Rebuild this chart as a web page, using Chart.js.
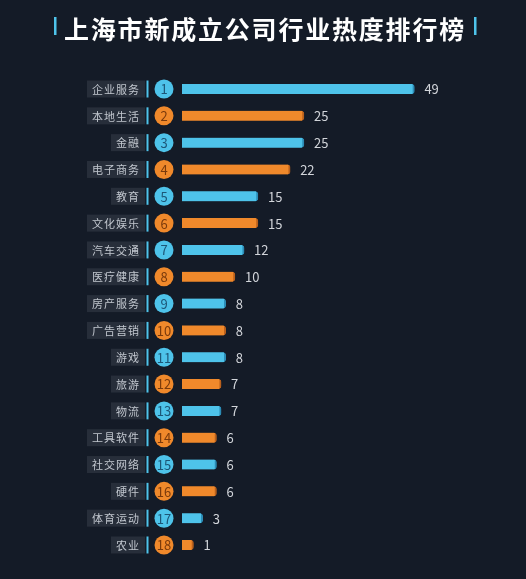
<!DOCTYPE html>
<html>
<head>
<meta charset="utf-8">
<script src="https://cdn.jsdelivr.net/npm/chart.js@4"></script>
<style>
  html, body { margin: 0; padding: 0; background: #141b27; }
  #wrap { width: 526px; height: 579px; }
</style>
</head>
<body>
<div id="wrap"><canvas id="rankChart" width="526" height="579"></canvas></div>
<script>
const title = '上海市新成立公司行业热度排行榜';
const industries = ['企业服务', '本地生活', '金融', '电子商务', '教育', '文化娱乐', '汽车交通', '医疗健康', '房产服务',
  '广告营销', '游戏', '旅游', '物流', '工具软件', '社交网络', '硬件', '体育运动', '农业'];
const companyCounts = [49, 25, 25, 22, 15, 15, 12, 10, 8, 8, 8, 7, 7, 6, 6, 6, 3, 1];

const CYAN = '#4ec3ea';
const ORANGE = '#f0892b';
const FONT = '"Noto Sans CJK SC", "Noto Sans", sans-serif';

const barColors = companyCounts.map((v, i) => i % 2 === 0 ? CYAN : ORANGE);
const edgeColors = companyCounts.map((v, i) => i % 2 === 0 ? '#2b8cb6' : '#b9601c');

// draws title, label boxes, rank circles and value text
const decorations = {
  id: 'decorations',
  afterDraw(chart) {
    const ctx = chart.ctx;
    const y = chart.scales.y;
    const meta = chart.getDatasetMeta(0);

    ctx.save();
    // title
    ctx.font = 'bold 25px ' + FONT;
    ctx.fillStyle = '#ffffff';
    ctx.textAlign = 'center';
    ctx.textBaseline = 'middle';
    ctx.letterSpacing = '1.8px';
    ctx.fillText(title, 265, 29);
    ctx.letterSpacing = '0px';
    ctx.fillStyle = CYAN;
    ctx.fillRect(54, 17, 2.5, 18);
    ctx.fillRect(474, 17, 2.5, 18);

    industries.forEach((name, i) => {
      const cy = y.getPixelForValue(i);
      // label box
      ctx.font = '11px ' + FONT;
      ctx.letterSpacing = '1px';
      const w = ctx.measureText(name).width;
      ctx.fillStyle = '#272e3a';
      ctx.fillRect(145 - w - 10, cy - 8.5, w + 10, 17);
      ctx.fillStyle = '#c2c7cf';
      ctx.textAlign = 'right';
      ctx.textBaseline = 'middle';
      ctx.fillText(name, 140, cy + 0.5);
      ctx.letterSpacing = '0px';
      ctx.fillStyle = CYAN;
      ctx.fillRect(146.5, cy - 8.5, 2, 17);

      // rank circle
      ctx.beginPath();
      ctx.arc(164, cy, 9.5, 0, Math.PI * 2);
      ctx.fillStyle = barColors[i];
      ctx.fill();
      ctx.fillStyle = i % 2 === 0 ? '#1d5677' : '#7a3a0c';
      ctx.font = '13px ' + FONT;
      ctx.textAlign = 'center';
      ctx.fillText(String(i + 1), 164, cy + 0.5);

      // value
      const bar = meta.data[i];
      ctx.fillStyle = '#d2d5da';
      ctx.font = '13px ' + FONT;
      ctx.textAlign = 'left';
      ctx.fillText(String(companyCounts[i]), bar.x + 10, cy + 0.5);
    });
    ctx.restore();
  }
};

new Chart(document.getElementById('rankChart'), {
  type: 'bar',
  data: {
    labels: industries,
    datasets: [{
      data: companyCounts,
      base: -1.5,
      backgroundColor: barColors,
      borderColor: edgeColors,
      borderWidth: { right: 2, left: 0, top: 0, bottom: 0 },
      borderSkipped: 'start',
      borderRadius: 3,
      barThickness: 10
    }]
  },
  options: {
    indexAxis: 'y',
    responsive: false,
    animation: false,
    layout: { padding: { left: 182, right: 84, top: 75.6, bottom: 20.6 } },
    plugins: { legend: { display: false }, tooltip: { enabled: false } },
    scales: {
      x: { display: false, min: -1.5, max: 55 },
      y: { display: false }
    }
  },
  plugins: [decorations]
});
</script>
</body>
</html>
